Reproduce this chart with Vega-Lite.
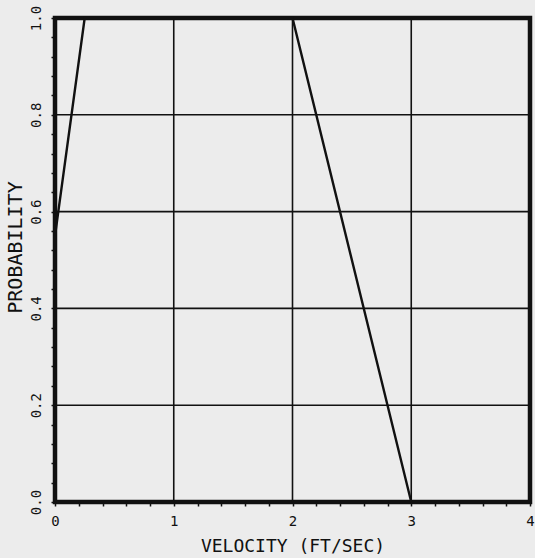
{
  "$schema": "https://vega.github.io/schema/vega-lite/v6.json",
  "autosize": "none",
  "width": 475,
  "height": 484,
  "padding": {"left": 55, "top": 18, "right": 5, "bottom": 56},
  "background": "#ececec",
  "config": {
    "view": {"stroke": "#111111", "strokeWidth": 4.5},
    "font": "DejaVu Sans Mono",
    "axis": {
      "domain": false,
      "grid": false,
      "tickColor": "#111111",
      "tickWidth": 1.5,
      "tickSize": 4,
      "labelColor": "#111111",
      "titleColor": "#111111",
      "labelFont": "DejaVu Sans Mono",
      "titleFont": "DejaVu Sans Mono",
      "labelFontSize": 14,
      "titleFontSize": 18,
      "titleFontWeight": "normal"
    }
  },
  "datasets": {
    "curve": [
      {"velocity": 0, "probability": 0.55},
      {"velocity": 0.25, "probability": 1.0},
      {"velocity": 2.0, "probability": 1.0},
      {"velocity": 3.0, "probability": 0.0}
    ],
    "gridx": [{"v": 1}, {"v": 2}, {"v": 3}],
    "gridy": [{"p": 0.2}, {"p": 0.4}, {"p": 0.6}, {"p": 0.8}]
  },
  "layer": [
    {
      "data": {"name": "gridx"},
      "mark": {"type": "rule", "color": "#111111", "strokeWidth": 1.6},
      "encoding": {
        "x": {
          "field": "v", "type": "quantitative",
          "scale": {"domain": [0, 4], "nice": false, "zero": false},
          "axis": {
            "values": [0, 0.2, 0.4, 0.6, 0.8, 1, 1.2, 1.4, 1.6, 1.8, 2, 2.2, 2.4, 2.6, 2.8, 3, 3.2, 3.4, 3.6, 3.8, 4],
            "tickCount": 200,
            "labelExpr": "(round(datum.value*10) % 10 == 0) ? format(datum.value, 'd') : ''",
            "labelOverlap": false,
            "labelBound": false,
            "labelPadding": 8,
            "labelFlush": false,
            "title": "VELOCITY (FT/SEC)",
            "titlePadding": 9
          }
        }
      }
    },
    {
      "data": {"name": "gridy"},
      "mark": {"type": "rule", "color": "#111111", "strokeWidth": 1.6},
      "encoding": {
        "y": {
          "field": "p", "type": "quantitative",
          "scale": {"domain": [0, 1], "nice": false},
          "axis": {
            "values": [0, 0.04, 0.08, 0.12, 0.16, 0.2, 0.24, 0.28, 0.32, 0.36, 0.4, 0.44, 0.48, 0.52, 0.56, 0.6, 0.64, 0.68, 0.72, 0.76, 0.8, 0.84, 0.88, 0.92, 0.96, 1],
            "tickCount": 200,
            "labelExpr": "(round(datum.value*100) % 20 == 0) ? format(datum.value, '.1f') : ''",
            "labelOverlap": false,
            "labelBound": false,
            "labelAngle": -90,
            "labelAlign": "center",
            "labelBaseline": "bottom",
            "labelPadding": 8,
            "labelFlush": false,
            "title": "PROBABILITY",
            "titleFontSize": 20,
            "titleY": 229,
            "titlePadding": 4
          }
        }
      }
    },
    {
      "data": {"name": "curve"},
      "mark": {"type": "line", "color": "#111111", "strokeWidth": 2.4},
      "encoding": {
        "x": {"field": "velocity", "type": "quantitative"},
        "y": {"field": "probability", "type": "quantitative"}
      }
    }
  ]
}
